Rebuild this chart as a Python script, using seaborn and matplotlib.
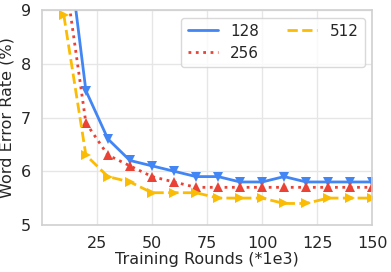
import matplotlib
matplotlib.use("Agg")
import matplotlib.pyplot as plt
import seaborn as sns
import pandas as pd

rounds = [10, 20, 30, 40, 50, 60, 70, 80, 90, 100, 110, 120, 130, 140, 150]
wer_128 = [10.8, 7.5, 6.6, 6.2, 6.1, 6.0, 5.9, 5.9, 5.8, 5.8, 5.9, 5.8, 5.8, 5.8, 5.8]
wer_256 = [9.8, 6.9, 6.3, 6.1, 5.9, 5.8, 5.7, 5.7, 5.7, 5.7, 5.7, 5.7, 5.7, 5.7, 5.7]
wer_512 = [8.9, 6.3, 5.9, 5.8, 5.6, 5.6, 5.6, 5.5, 5.5, 5.5, 5.4, 5.4, 5.5, 5.5, 5.5]
labels = ["128", "256", "512"]
colors = ["#4285F4", "#EA4335", "#FBBC05"]
markers = ["v", "^", ">"]
styles = ["-", ":", "--"]

sns.set_theme(style="whitegrid")
plt.rcParams["font.family"] = ["DejaVu Sans"]

df = pd.DataFrame({"rounds": rounds * 3,
                   "wer": wer_128 + wer_256 + wer_512,
                   "bs": sum([[l] * len(rounds) for l in labels], [])})

fig, ax = plt.subplots(figsize=(3.91, 2.72), dpi=100)
for lab, c, m, ls in zip(labels, colors, markers, styles):
    sub = df[df["bs"] == lab]
    sns.lineplot(data=sub, x="rounds", y="wer", ax=ax, color=c, marker=m,
                 linestyle=ls, linewidth=2, markersize=7.5, markeredgewidth=0,
                 label=lab)

ax.set_xlim(0, 150)
ax.set_ylim(5, 9)
ax.set_xticks([25, 50, 75, 100, 125, 150])
ax.set_yticks([5, 6, 7, 8, 9])
ax.set_xlabel("Training Rounds (*1e3)", fontsize=11.5, labelpad=1)
ax.set_ylabel("Word Error Rate (%)", fontsize=11.5, labelpad=4)
ax.tick_params(axis="both", labelsize=11.5, pad=2)
for sp in ax.spines.values():
    sp.set_visible(True)
    sp.set_color("#d0d0d0")
    sp.set_linewidth(1.2)
ax.grid(True, color="#e6e6e6", linewidth=1)

handles, labs = ax.get_legend_handles_labels()
leg = ax.legend(handles=handles, labels=labs, ncol=2, loc="upper right",
                fontsize=11, frameon=True, handlelength=2.0, columnspacing=1.8,
                borderaxespad=0.5, handletextpad=0.8, labelspacing=0.45,
                borderpad=0.4)
for h in leg.legend_handles:
    h.set_marker("")
leg.get_frame().set_edgecolor("#d0d0d0")

fig.subplots_adjust(left=0.107, right=0.952, top=0.963, bottom=0.173)
fig.savefig("out.png", dpi=100)
